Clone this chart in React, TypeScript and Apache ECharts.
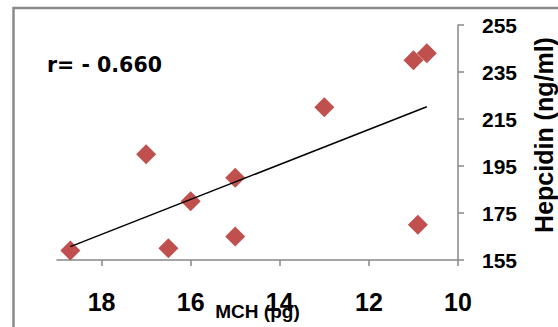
import React, { useEffect, useRef } from "react";
import * as echarts from "echarts";

const mchValues = [18.7, 17.0, 16.5, 16.0, 15.0, 15.0, 13.0, 11.0, 10.7, 10.9];
const hepcidinValues = [159, 200, 160, 180, 190, 165, 220, 240, 243, 170];
const trendX = [18.7, 10.7];
const trendY = [160.7, 220.2];
const xTicks = [10, 12, 14, 16, 18];
const yTicks = [155, 175, 195, 215, 235, 255];
const correlationText = "r= - 0.660";
const xName = "MCH (pg)";
const yName = "Hepcidin (ng/ml)";

export default function App() {
  const ref = useRef<HTMLDivElement>(null);
  useEffect(() => {
    document.body.style.margin = "0";
    if (!ref.current) return;
    const chart = echarts.init(ref.current, undefined, { renderer: "svg" });
    const axisColor = "#888888";
    const labelFont = "'Liberation Sans', Arial, sans-serif";
    chart.setOption({
      animation: false,
      backgroundColor: "#ffffff",
      grid: { left: 57, right: 100, top: 25, bottom: 67, outerBoundsMode: "none", containLabel: false },
      xAxis: {
        type: "value",
        min: 10,
        max: 19,
        inverse: true,
        position: "bottom",
        name: xName,
        nameLocation: "middle",
        nameGap: 42,
        nameMoveOverlap: false,
        nameTextStyle: {
          fontFamily: labelFont,
          fontWeight: "bold",
          fontSize: 19,
          color: "#000",
        },
        axisLine: { lineStyle: { color: axisColor, width: 1.5 } },
        axisTick: {
          show: true,
          customValues: xTicks,
          length: 6,
          lineStyle: { color: axisColor, width: 1.5 },
        },
        axisLabel: {
          customValues: xTicks,
          margin: 29,
          fontFamily: labelFont,
          fontWeight: "bold",
          fontSize: 25,
          color: "#000",
        },
        splitLine: { show: false },
      },
      yAxis: {
        type: "value",
        min: 155,
        max: 255,
        position: "right",
        axisLine: { show: true, lineStyle: { color: axisColor, width: 1.5 } },
        axisTick: {
          show: true,
          customValues: yTicks,
          length: 6,
          lineStyle: { color: axisColor, width: 1.5 },
        },
        axisLabel: {
          customValues: yTicks,
          margin: 24,
          fontFamily: labelFont,
          fontWeight: "bold",
          fontSize: 21,
          color: "#000",
        },
        splitLine: { show: false },
      },
      graphic: [
        {
          type: "rect",
          shape: { x: 13.5, y: 8, width: 700, height: 500 },
          style: { fill: "none", stroke: "#8a8a8a", lineWidth: 2.5 },
          silent: true,
        },
        {
          type: "text",
          x: 47,
          y: 65,
          style: {
            text: correlationText,
            fontFamily: "'DejaVu Sans', sans-serif",
            fontWeight: "bold",
            fontSize: 20.5,
            fill: "#000",
            textAlign: "left",
            textVerticalAlign: "middle",
          },
        },
        {
          type: "text",
          x: 544,
          y: 135,
          rotation: Math.PI / 2,
          style: {
            text: yName,
            fontFamily: labelFont,
            fontWeight: "bold",
            fontSize: 25,
            fill: "#000",
            textAlign: "center",
            textVerticalAlign: "middle",
          },
        },
      ],
      series: [
        {
          type: "scatter",
          symbol: "diamond",
          symbolSize: 20,
          itemStyle: { color: "#C0504D", opacity: 1 },
          data: mchValues.map((x, i) => [x, hepcidinValues[i]]),
          z: 2,
        },
        {
          type: "line",
          data: trendX.map((x, i) => [x, trendY[i]]),
          symbol: "none",
          lineStyle: { color: "#000", width: 1.5 },
          z: 3,
        },
      ],
    });
    return () => chart.dispose();
  }, []);
  return <div ref={ref} style={{ width: 558, height: 327 }} />;
}
